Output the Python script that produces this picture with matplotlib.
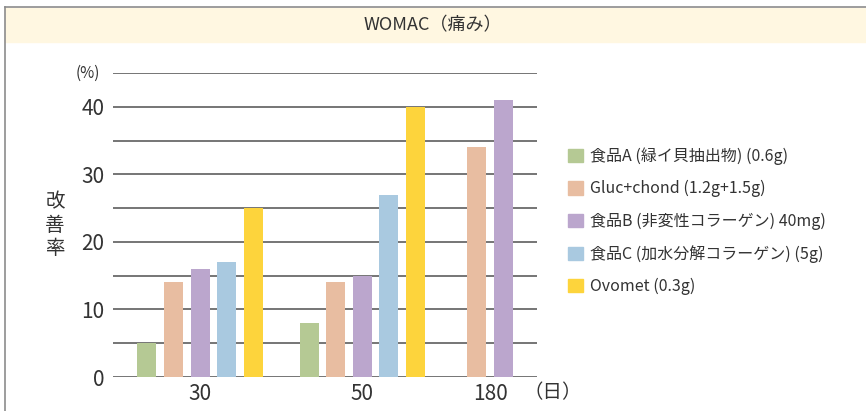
import numpy as np
import matplotlib.pyplot as plt
from matplotlib.patches import Rectangle, Patch
from matplotlib.lines import Line2D

plt.rcParams['font.family'] = ['Noto Sans CJK JP', 'DejaVu Sans']

days = ['30', '50', '180']
series = ['食品A (緑イ貝抽出物) (0.6g)',
          'Gluc+chond (1.2g+1.5g)',
          '食品B (非変性コラーゲン) 40mg)',
          '食品C (加水分解コラーゲン) (5g)',
          'Ovomet (0.3g)']
colors = ['#b5c994', '#e8bda1', '#bba6cd', '#a9c9e0', '#fdd43c']
# None = no bar for that group
values = [
    [5, 8, None],
    [14, 14, 34],
    [16, 15, 41],
    [17, 27, None],
    [25, 40, None],
]
group_pos = [0.0, 1.0, 1.79]

fig = plt.figure(figsize=(8.66, 4.11), dpi=100)

# frame and title band
fig.patches.append(Rectangle((5 / 866, 1 - 42 / 411), 1, 34 / 411,
                             transform=fig.transFigure, color='#fff7e1', zorder=0))
fig.lines.append(Line2D([5 / 866, 1], [1 - 7 / 411] * 2, transform=fig.transFigure,
                        color='#8c8c8c', lw=1.2))
fig.lines.append(Line2D([5 / 866] * 2, [0, 1 - 7 / 411], transform=fig.transFigure,
                        color='#8c8c8c', lw=1.2))
fig.text(0.5, 1 - 25 / 411, 'WOMAC（痛み）', ha='center', va='center',
         fontsize=13, color='#333333')

ax = fig.add_axes([113 / 866, 34 / 411, 424 / 866, 304 / 411])
ax.set_ylim(0, 45)
ax.set_xlim(-0.537, 2.08)
for s in ax.spines.values():
    s.set_visible(False)

for yv in range(0, 50, 5):
    ax.axhline(yv, color='#6a6a6a', lw=1.3, zorder=0)

width = 19 / 162
step = 26.5 / 162
for g, gx in enumerate(group_pos):
    present = [i for i in range(len(series)) if values[i][g] is not None]
    n = len(present)
    for k, i in enumerate(present):
        x = gx + (k - (n - 1) / 2) * step
        ax.bar(x, values[i][g], width=width, color=colors[i], zorder=2)

ax.set_yticks([0, 10, 20, 30, 40])
ax.set_yticklabels(['0', '10', '20', '30', '40'], fontsize=15, color='#333333')
ax.set_xticks(group_pos)
ax.set_xticklabels(days, fontsize=15, color='#333333')
ax.tick_params(length=0)
ax.tick_params(axis='y', pad=6)
ax.tick_params(axis='x', pad=4)

fig.text(88 / 866, 1 - 73 / 411, '(%)', ha='center', va='center',
         fontsize=11, color='#333333')
fig.text(553 / 866, 1 - 393 / 411, '（日）', ha='center', va='center',
         fontsize=14, color='#333333')
fig.text(55 / 866, 1 - 225 / 411, '改\n善\n率', ha='center', va='center',
         fontsize=14, color='#333333', linespacing=1.15)

handles = [Patch(color=c) for c in colors]
fig.legend(handles, series, loc='upper left', bbox_to_anchor=(554 / 866, 1 - 133 / 411),
           frameon=False, fontsize=11.5, handlelength=0.9, handleheight=0.9,
           handletextpad=0.45, labelspacing=0.95, labelcolor='#333333')

plt.savefig('out.png')
